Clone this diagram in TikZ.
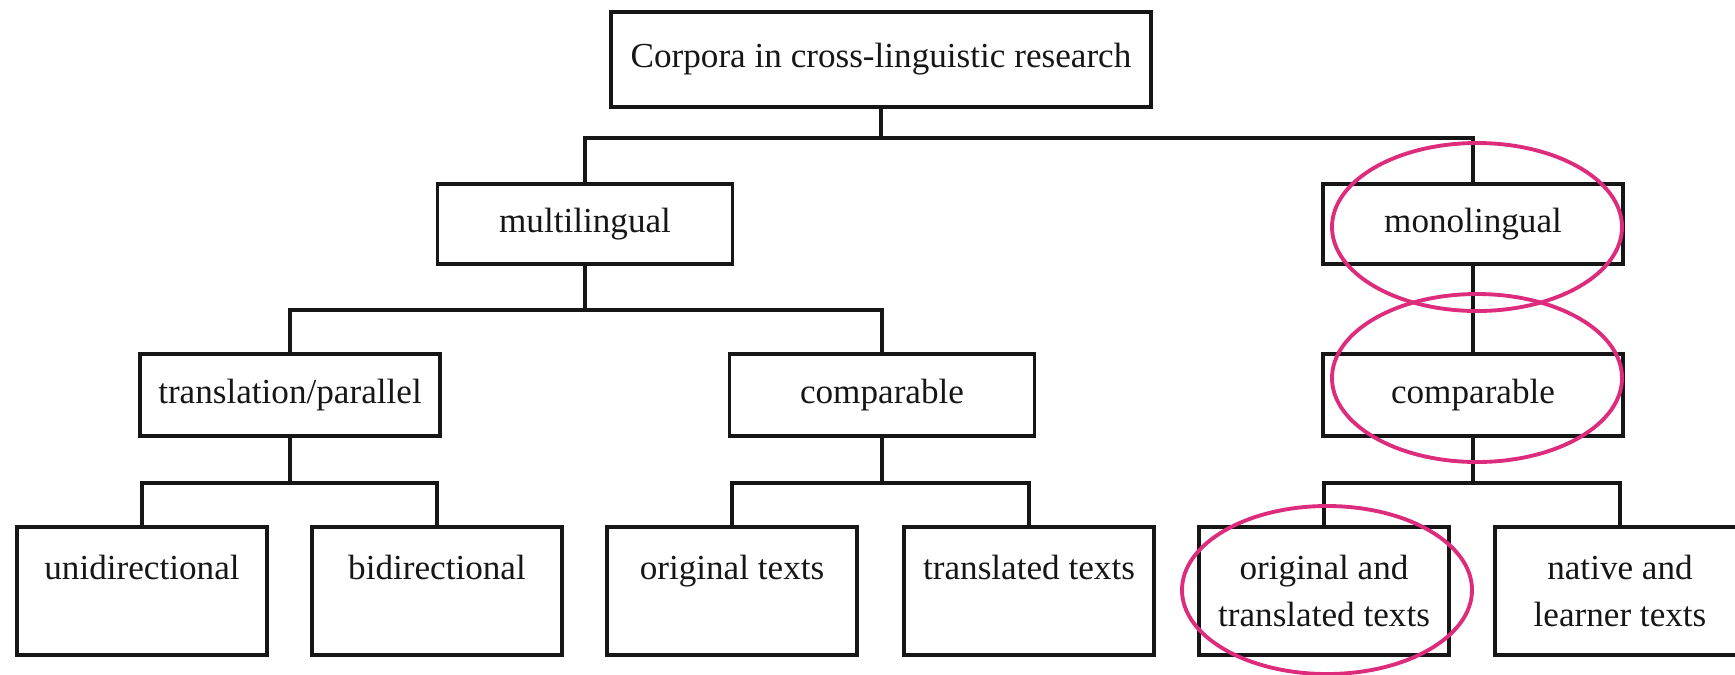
\documentclass[tikz,border=0pt]{standalone}
\usepackage{fontspec}
\setmainfont{Liberation Serif}
\definecolor{inkblack}{RGB}{22,22,22}
\definecolor{markpink}{RGB}{222,44,124}

\begin{document}
\begin{tikzpicture}[
    box/.style={draw=inkblack,line width=0.9pt,inner sep=0pt,align=center,
      font=\fontsize{10}{13.5}\selectfont,text=inkblack},
    branch/.style={draw=inkblack,line width=1pt},
    ring/.style={draw=markpink,line width=1.1pt}]
  \useasboundingbox (0,0) rectangle (17.35,6.74);
  % Root
  \node[box,minimum width=5.4cm,minimum height=0.95cm] (root) at (8.81,6.145)
    {Corpora in cross-linguistic research};
  % Second level
  \node[box,minimum width=2.95cm,minimum height=0.8cm] (multi) at (5.85,4.50) {multilingual};
  \node[box,minimum width=3.0cm,minimum height=0.8cm] (mono) at (14.73,4.50) {monolingual};
  % Third level
  \node[box,minimum width=3.0cm,minimum height=0.82cm] (trans) at (2.90,2.79) {translation/parallel};
  \node[box,minimum width=3.05cm,minimum height=0.82cm] (comp) at (8.82,2.79) {comparable};
  \node[box,minimum width=3.0cm,minimum height=0.82cm] (compmono) at (14.73,2.79) {comparable};
  % Bottom row
  \foreach \name/\x/\lbl in {uni/1.42/{unidirectional\\[-4pt]\strut},
                             bi/4.37/{bidirectional\\[-4pt]\strut},
                             orig/7.32/{original texts\\[-4pt]\strut},
                             transl/10.29/{translated texts\\[-4pt]\strut},
                             origtransl/13.24/{original and\\translated texts},
                             native/16.20/{native and\\learner texts}}{
    \node[box,minimum width=2.5cm,minimum height=1.28cm] (\name) at (\x,0.83) {\lbl};
  }
  % Branch levels
  \coordinate (bar1) at (0,5.36);
  \coordinate (bar2) at (0,3.64);
  \coordinate (bar3) at (0,1.91);
  \draw[branch] (root.south) -- (root.south |- bar1);
  \draw[branch] (multi.north) |- (mono.north |- bar1) -- (mono.north);
  \draw[branch] (multi.south) -- (multi.south |- bar2);
  \draw[branch] (trans.north) |- (comp.north |- bar2) -- (comp.north);
  \draw[branch] (mono.south) -- (compmono.north);
  \draw[branch] (trans.south) -- (trans.south |- bar3);
  \draw[branch] (uni.north) |- (bi.north |- bar3) -- (bi.north);
  \draw[branch] (comp.south) -- (comp.south |- bar3);
  \draw[branch] (orig.north) |- (transl.north |- bar3) -- (transl.north);
  \draw[branch] (compmono.south) -- (compmono.south |- bar3);
  \draw[branch] (origtransl.north) |- (native.north |- bar3) -- (native.north);
  % Highlight rings
  \draw[ring] (14.77,4.47) ellipse (1.45cm and 0.84cm);
  \draw[ring] (14.77,2.96) ellipse (1.45cm and 0.84cm);
  \draw[ring] (13.27,0.84) ellipse (1.45cm and 0.84cm);
\end{tikzpicture}
\end{document}
